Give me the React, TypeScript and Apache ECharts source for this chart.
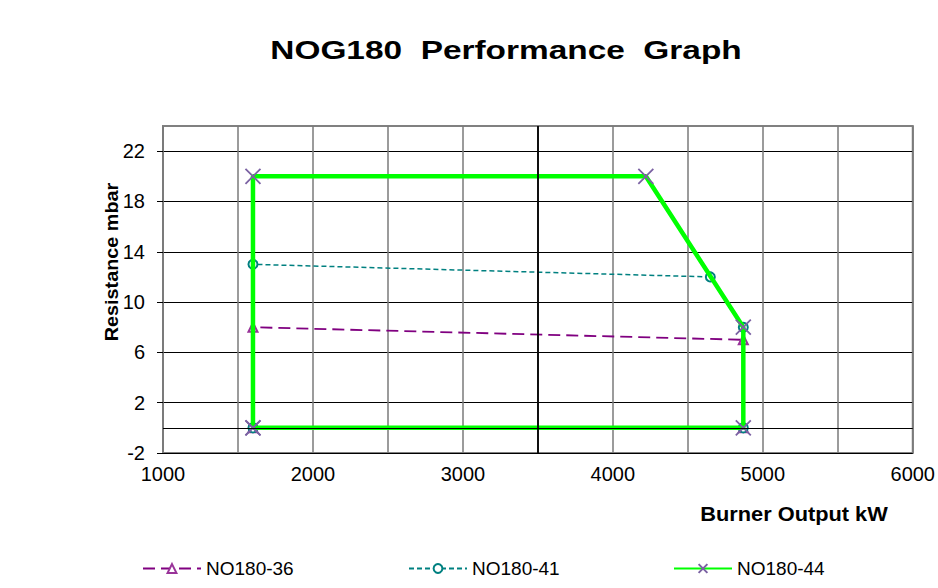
import React, { useEffect, useRef } from 'react';
import * as echarts from 'echarts';

const seriesNames = ['NO180-36', 'NO180-41', 'NO180-44'];
const s36: number[][] = [[1600, 0], [1600, 8], [4870, 7], [4870, 0]];
const s41: number[][] = [[1600, 0], [1600, 13], [4650, 12], [4870, 8], [4870, 0]];
const s44: number[][] = [[1600, 0], [1600, 20], [4220, 20], [4870, 8], [4870, 0], [1600, 0]];
const xTickLabels = [1000, 2000, 3000, 4000, 5000, 6000];
const yTickLabels = [-2, 2, 6, 10, 14, 18, 22];
const axisCrossX = 3500;
const axisCrossY = 0;

const titleText = 'NOG180  Performance  Graph';
const xName = 'Burner Output kW';
const yName = 'Resistance mbar';

const FONT = '"Liberation Sans", Arial, sans-serif';

export default function App() {
  const ref = useRef<HTMLDivElement>(null);
  useEffect(() => {
    document.body.style.margin = '0';
    const chart = echarts.init(ref.current!, undefined, { renderer: 'svg' });
    const xMark = 'path://M0,0L10,10M10,0L0,10';
    chart.setOption({
      animation: false,
      backgroundColor: '#ffffff',
      grid: {
        left: 163, right: 25, top: 126, bottom: 135,
        show: true, borderColor: '#808080', borderWidth: 2,
      },
      xAxis: {
        type: 'value', min: 1000, max: 6000, interval: 500,
        axisLine: { show: false }, axisTick: { show: false },
        axisLabel: {
          customValues: xTickLabels,
          formatter: (v: number) => String(v),
          fontFamily: FONT, fontSize: 20, color: '#000', margin: 11,
        },
        splitLine: { show: true, lineStyle: { color: '#7a7a7a', width: 1.5 } },
      },
      yAxis: {
        type: 'value', min: -2, max: 24,
        axisLine: { show: false },
        axisTick: { show: true, customValues: yTickLabels, length: 6, lineStyle: { color: '#000' } },
        axisLabel: {
          customValues: yTickLabels,
          formatter: (v: number) => String(v),
          fontFamily: FONT, fontSize: 20, color: '#000', margin: 18,
        },
        splitLine: { show: true, lineStyle: { color: '#000', width: 1 } },
      },
      legend: seriesNames.map((n, i) => ({
        data: [n],
        left: [137, 403, 668][i],
        top: 554,
        itemWidth: 58,
        itemHeight: 11,
        textStyle: { fontFamily: FONT, fontSize: 19, color: '#000' },
      })),
      graphic: [
        {
          type: 'text', x: 506, y: 50, scaleX: 1.285,
          style: {
            text: titleText, font: `bold 26px ${FONT}`, fill: '#000',
            textAlign: 'center', textVerticalAlign: 'middle', align: 'center', verticalAlign: 'middle',
          },
        },
        {
          type: 'text', x: 794, y: 514, scaleX: 1.09,
          style: {
            text: xName, font: `bold 20px ${FONT}`, fill: '#000',
            textAlign: 'center', textVerticalAlign: 'middle', align: 'center', verticalAlign: 'middle',
          },
        },
        {
          type: 'text', x: 112, y: 262, rotation: Math.PI / 2, scaleX: 1.1,
          style: {
            text: yName, font: `bold 18px ${FONT}`, fill: '#000',
            textAlign: 'center', textVerticalAlign: 'middle', align: 'center', verticalAlign: 'middle',
          },
        },
      ],
      series: [
        {
          type: 'line', name: '__axes', data: [], z: 1, silent: true,
          markLine: {
            silent: true, symbol: ['none', 'none'], label: { show: false },
            data: [
              { xAxis: axisCrossX, lineStyle: { color: '#000', width: 1.8, type: 'solid' } },
              { yAxis: axisCrossY, lineStyle: { color: '#000', width: 1, type: 'solid' } },
            ],
          },
        },
        {
          type: 'line', name: seriesNames[0], data: s36, z: 2,
          lineStyle: { color: '#800080', width: 1.8, type: [12, 6] },
          symbol: 'emptyTriangle', symbolSize: 9,
          itemStyle: { color: '#993399', borderWidth: 1.5 },
        },
        {
          type: 'line', name: seriesNames[1], data: s41, z: 3,
          lineStyle: { color: '#008080', width: 1.5, type: [5, 3] },
          symbol: 'emptyCircle', symbolSize: 9,
          itemStyle: { color: '#008080', borderWidth: 1.5 },
        },
        {
          type: 'line', name: seriesNames[2], data: s44, z: 4,
          lineStyle: { color: '#00ff00', width: 4.5, type: 'solid' },
          symbol: xMark, symbolSize: 15,
          itemStyle: { color: '#7b62a3', borderColor: '#7b62a3', borderWidth: 1.8 },
        },
      ],
    });
    return () => chart.dispose();
  }, []);
  return <div ref={ref} style={{ width: 938, height: 588 }} />;
}
